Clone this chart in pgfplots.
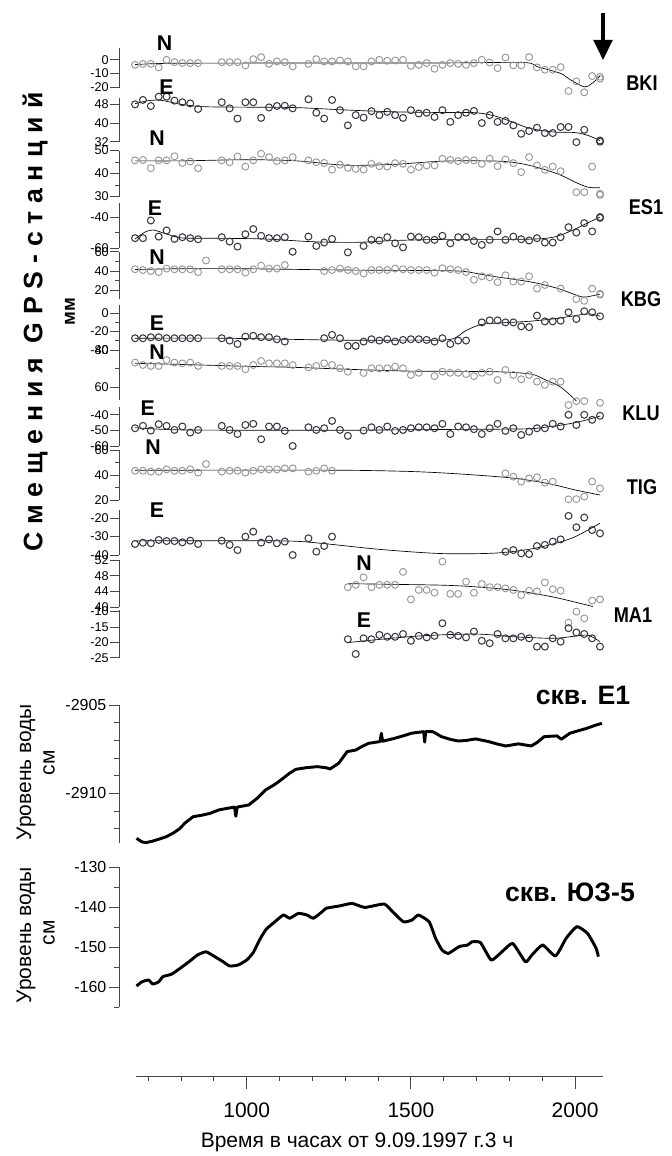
\documentclass[border=0pt]{standalone}
\usepackage{fontspec}
\setmainfont{Liberation Sans}
\usepackage{pgfplots}
\pgfplotsset{compat=1.18}
\usetikzlibrary{arrows.meta}
\definecolor{ncol}{RGB}{150,150,150}
\definecolor{ecol}{RGB}{55,60,66}
\definecolor{axcol}{RGB}{70,70,70}
\pgfplotsset{
  base/.style={scale only axis, width=363pt, xmin=611, xmax=2085, clip=false,
    axis x line=none, axis y line*=left, xtick=\empty, anchor=south west,
    axis line style={axcol, line width=0.6pt}, tick align=outside,
    every tick/.style={axcol, line width=0.6pt}},
  gps/.style={base, major tick length=6.75pt, minor tick length=3.4pt,
    yticklabel style={font=\fontsize{9.5}{10}\selectfont, inner sep=1pt}},
  ncirc/.style={only marks, mark=o, color=ncol, mark size=2.6pt, mark options={ncol, line width=0.7pt}},
  ecirc/.style={only marks, mark=o, color=ecol, mark size=2.6pt, mark options={ecol, line width=0.8pt}},
  fit/.style={black, line width=0.5pt, smooth, tension=0.5, no marks},
  wat/.style={base, major tick length=7.5pt, minor tick length=3.75pt, height=104pt,
    yticklabel style={font=\fontsize{12}{14}\selectfont, inner sep=2pt}},
}
\begin{document}
\begin{tikzpicture}
\useasboundingbox (0,0) rectangle (503.25pt,-867pt);
% ---------- BKI N
\begin{axis}[gps, at={(89.475pt,-66.225pt)}, height=30pt, ymin=-21, ymax=8.5,
  ytick={-20,-10,0}, yticklabels={-20,-10,0}]
\addplot[ncirc] coordinates {(659,-3.7) (683,-3) (707,-3) (731,-5.6) (755,0) (779,-1.7) (803,-2.4) (827,-2.4) (851,-2.4) (923,-1.7) (947,-1.7) (971,-1.7) (995,-4.1) (1019,0.5) (1043,2) (1067,-3) (1091,-1.2) (1115,-1.7) (1139,-4.9) (1187,-3) (1211,0.5) (1235,-1.2) (1259,-1.2) (1283,-0.5) (1307,-1.2) (1331,-4.9) (1355,-4.9) (1379,-1.2) (1403,0) (1427,-0.7) (1451,-0.5) (1475,0) (1499,-4.4) (1523,-3.7) (1547,-2.4) (1571,-6.6) (1595,-3.7) (1619,-2.4) (1643,-3) (1667,-3.7) (1691,-2.4) (1715,0) (1739,-2) (1763,-6.1) (1787,1.7) (1811,-4.1) (1835,-4.1) (1859,2) (1883,-5.6) (1907,-7.3) (1931,-7.3) (1955,-5.4) (1979,-23) (2003,-15.9) (2027,-24) (2051,-12) (2075,-14) (2075,-12.5)};
\addplot[fit] coordinates {(659,-3.5) (755,-2.6) (1000,-2.4) (1300,-2.3) (1600,-2.3) (1842,-2) (1883,-5) (1955,-10) (1980,-14) (2027,-20) (2050,-17.5) (2075,-12)};
\end{axis}
% ---------- BKI E
\begin{axis}[gps, at={(89.475pt,-106.275pt)}, height=32.55pt, ymin=32, ymax=50.6,
  ytick={32,40,48}, yticklabels={32,40,48}]
\addplot[ecirc] coordinates {(659,48) (683,49.9) (707,47.3) (731,51.3) (755,51.3) (779,49.6) (803,48.9) (827,48.4) (851,46) (923,48.9) (947,46.3) (971,41.9) (995,48.9) (1019,48.9) (1043,42.2) (1067,46.7) (1091,47.3) (1115,47.4) (1139,46.3) (1187,50.2) (1211,44.4) (1235,41.9) (1259,49.9) (1283,45.5) (1307,39) (1331,43.4) (1355,42.3) (1379,45.1) (1403,43.4) (1427,44.8) (1451,43.4) (1475,42.2) (1499,45.5) (1523,44.1) (1547,44.4) (1571,42.6) (1595,45.5) (1619,40.5) (1643,43.4) (1667,44.4) (1691,45.2) (1715,40) (1739,43.4) (1763,40.5) (1787,40.9) (1811,39) (1835,35.4) (1859,36.6) (1883,38) (1907,35.7) (1931,35.7) (1955,38.3) (1979,38.3) (2003,31.8) (2027,37.1) (2075,32.5) (2075,32)};
\addplot[fit] coordinates {(659,48.3) (700,49.6) (740,49.7) (800,48) (870,47) (1000,46.8) (1150,46.6) (1300,45.6) (1450,44.8) (1600,44.5) (1700,44.4) (1760,42.8) (1811,40.3) (1859,37.8) (1930,36.2) (2000,35.9) (2040,34.6) (2075,32.5)};
\end{axis}
% ---------- ES1 N
\begin{axis}[gps, at={(89.475pt,-147.375pt)}, height=34.5pt, ymin=30, ymax=50,
  ytick={30,40,50}, yticklabels={30,40,50}, minor ytick={35,45}]
\addplot[ncirc] coordinates {(659,45.7) (683,45.9) (707,42.3) (731,45.7) (755,45.7) (779,47.5) (803,44.6) (827,45.2) (851,42.3) (923,45.7) (947,44.9) (971,47.4) (995,43) (1019,45.7) (1043,48.6) (1067,47.1) (1091,45.4) (1115,45.7) (1139,47.1) (1187,45.7) (1211,44.9) (1235,44.6) (1259,41.7) (1283,43.8) (1307,42.5) (1331,42) (1355,41.7) (1379,44.2) (1403,43.2) (1427,43) (1451,44.5) (1475,44.2) (1499,41.7) (1523,42.8) (1547,43.5) (1571,43.5) (1595,46.4) (1619,45.9) (1643,45.4) (1667,45.9) (1691,45.7) (1715,44.2) (1739,46.4) (1763,43.2) (1787,46.1) (1811,44.5) (1835,40.6) (1859,47.1) (1883,43.5) (1907,41.6) (1931,43) (1955,41) (2003,31.9) (2027,31.9) (2051,43) (2075,30.7) (2075,31.2)};
\addplot[fit] coordinates {(659,45.5) (800,45.5) (1000,46) (1150,45.5) (1300,43.6) (1450,44) (1600,45.4) (1760,45.4) (1835,44.3) (1900,42) (1955,39.3) (2003,36) (2040,34) (2075,33.8)};
\end{axis}
% ---------- ES1 E
\begin{axis}[gps, at={(89.475pt,-186.225pt)}, height=33.975pt, ymin=-60, ymax=-31,
  ytick={-60,-40}, yticklabels={-60,-40}, minor ytick={-50}]
\addplot[ecirc] coordinates {(659,-53.5) (683,-53.5) (707,-42.2) (731,-52.5) (755,-48.6) (779,-54) (803,-52.9) (827,-53.5) (851,-54.2) (923,-52.9) (947,-55.7) (971,-58.9) (995,-51) (1019,-47.7) (1043,-52) (1067,-53.5) (1091,-53.5) (1115,-52.9) (1139,-62.2) (1187,-52.5) (1211,-58.5) (1235,-56.3) (1259,-54) (1307,-62.6) (1355,-58.5) (1379,-54.6) (1403,-55) (1427,-52.9) (1451,-56.8) (1475,-59.4) (1499,-52.5) (1523,-52.9) (1547,-54.6) (1571,-54.6) (1595,-52) (1619,-56.8) (1643,-52.9) (1667,-52.9) (1691,-55.3) (1715,-57.8) (1739,-54.6) (1763,-49.2) (1787,-54.6) (1811,-52.5) (1835,-54.2) (1859,-55) (1883,-53.5) (1907,-56.3) (1931,-56.3) (1955,-52.9) (1979,-46.5) (2003,-49.9) (2027,-43.9) (2051,-49.2) (2075,-40) (2075,-40.5)};
\addplot[fit] coordinates {(659,-54) (690,-49.5) (715,-48.3) (750,-50.5) (800,-53.3) (900,-53.6) (1050,-54) (1200,-55.8) (1330,-56.2) (1450,-55) (1600,-54.3) (1850,-54.2) (1930,-53) (1980,-49.5) (2030,-44.5) (2075,-40)};
\end{axis}
% ---------- KBG N
\begin{axis}[gps, at={(89.475pt,-223.875pt)}, height=35.1pt, ymin=11.5, ymax=60,
  ytick={20,40,60}, yticklabels={20,40,60}, minor ytick={30,50}]
\addplot[ncirc] coordinates {(659,41.8) (683,41) (707,40) (731,38.9) (755,42.5) (779,41.8) (803,41.8) (827,41.8) (851,38.9) (875,50.9) (923,41.8) (947,41.8) (971,41.8) (995,38.2) (1019,41.8) (1043,45.5) (1067,42.5) (1091,42.5) (1115,46.2) (1235,40) (1259,41) (1283,42.5) (1307,41) (1331,40) (1355,37.5) (1379,41) (1403,41) (1427,41) (1451,42.5) (1475,41.8) (1499,41) (1523,41) (1547,41) (1571,38.2) (1595,42.9) (1619,41.8) (1643,41) (1667,38.9) (1691,30.9) (1715,34.5) (1739,33.5) (1763,28.4) (1787,35.6) (1811,29.1) (1835,29.1) (1859,34.5) (1883,21.8) (1907,25.5) (1955,21.8) (2003,10.9) (2027,9.1) (2051,21.8) (2075,16.4) (2075,15.5)};
\addplot[fit] coordinates {(659,41.5) (800,42.4) (1000,42.3) (1300,41) (1500,40.6) (1620,40.2) (1667,39.3) (1739,35) (1800,32) (1859,29) (1907,25.5) (1955,21) (1995,16) (2027,13) (2075,16)};
\end{axis}
% ---------- KBG E
\begin{axis}[gps, at={(89.475pt,-262.5pt)}, height=33.75pt, ymin=-40, ymax=8.6,
  ytick={-40,-20,0}, yticklabels={-40,-20,0}, minor ytick={-30,-10}]
\addplot[ecirc] coordinates {(659,-27.3) (683,-27.3) (707,-26.2) (731,-26.2) (755,-27.3) (779,-27.3) (803,-27.3) (827,-27.3) (851,-27.3) (923,-27.3) (947,-29.8) (971,-33.5) (995,-25.5) (1019,-24.7) (1043,-26.2) (1067,-26.2) (1091,-28.4) (1115,-30.9) (1235,-27.3) (1259,-23.6) (1283,-27.3) (1307,-35.6) (1331,-35.6) (1355,-30.9) (1379,-28.4) (1403,-29.8) (1427,-28.4) (1451,-30.9) (1475,-29.1) (1499,-28.4) (1523,-28.4) (1547,-29.1) (1571,-30.9) (1595,-27.3) (1619,-33.5) (1643,-29.8) (1667,-29.8) (1715,-10.2) (1739,-8) (1763,-8) (1787,-10.2) (1811,-10.2) (1835,-14.5) (1859,-15.3) (1883,-2.9) (1907,-9.1) (1931,-9.1) (1955,-8.4) (1979,0.7) (2003,-6.5) (2027,1.8) (2051,0.7) (2075,-3.6)};
\addplot[fit] coordinates {(659,-27.3) (900,-27.2) (1100,-28.3) (1300,-29.4) (1500,-29.3) (1619,-28.6) (1667,-19) (1715,-12.3) (1787,-10.5) (1859,-9) (1930,-6.5) (1979,-4) (2040,-1) (2075,-3.6)};
\end{axis}
% ---------- KLU N
\begin{axis}[gps, at={(89.475pt,-300pt)}, height=37.5pt, ymin=53, ymax=80,
  ytick={60,80}, yticklabels={60,80}, minor ytick={70}]
\addplot[ncirc] coordinates {(659,73.2) (683,71.9) (707,71.4) (731,71.4) (755,74.6) (779,73.2) (803,72.8) (827,73.2) (851,71.4) (923,71.4) (947,71.4) (971,71.4) (995,69.6) (1019,71.9) (1043,74.1) (1067,72.8) (1091,72.8) (1115,72.8) (1139,71.9) (1187,70.6) (1211,71.4) (1235,72.8) (1259,71.9) (1283,70.1) (1307,68.3) (1355,67.6) (1379,70.1) (1403,70.1) (1427,70.1) (1451,71) (1475,70.1) (1499,66.5) (1523,67.7) (1571,65.9) (1595,68.3) (1619,67.7) (1643,67.7) (1667,67) (1691,65.9) (1715,67.7) (1739,68.3) (1763,63.8) (1787,69.2) (1811,66.5) (1835,64.2) (1859,66.5) (1883,62.9) (1907,61.1) (1931,62.9) (1955,62.9) (1979,50.3) (2003,52.4) (2027,52.4) (2075,51.5)};
\addplot[fit] coordinates {(659,72.8) (800,72.2) (1000,71.2) (1150,70.6) (1307,69.6) (1500,68.6) (1750,68.3) (1864,67) (1907,64) (1955,60) (2003,52.5)};
\end{axis}
% ---------- KLU E
\begin{axis}[gps, at={(89.475pt,-334.5pt)}, height=29.25pt, ymin=-60, ymax=-35,
  ytick={-60,-50,-40}, yticklabels={-60,-50,-40}]
\addplot[ecirc] coordinates {(659,-48.6) (683,-47.1) (707,-50.1) (731,-46) (755,-47.1) (779,-49.7) (803,-47.5) (827,-51.4) (851,-49.7) (923,-47.1) (947,-49.7) (971,-52.3) (995,-46.5) (1019,-45.8) (1043,-55.7) (1067,-47.5) (1091,-47.5) (1115,-50.3) (1139,-60) (1187,-48) (1211,-49.7) (1235,-48.6) (1259,-43.9) (1283,-49.7) (1307,-53.5) (1355,-50.1) (1379,-48) (1403,-49.7) (1427,-47.5) (1451,-50.3) (1475,-49.7) (1499,-48.6) (1523,-48) (1547,-48) (1571,-48.6) (1595,-45.8) (1619,-52.3) (1643,-47.5) (1667,-48) (1691,-49.2) (1715,-52.3) (1739,-48.6) (1763,-45.8) (1787,-50.3) (1811,-48.6) (1835,-52.9) (1859,-50.8) (1883,-48.6) (1907,-48.6) (1931,-45.8) (1955,-47.5) (1979,-40) (2003,-46.5) (2027,-40) (2051,-43.2) (2075,-40.6)};
\addplot[fit] coordinates {(659,-48.3) (780,-49.6) (1000,-49.9) (1300,-49.9) (1600,-49.4) (1850,-49) (1920,-47.6) (1980,-45.8) (2030,-43.5) (2075,-40.8)};
\end{axis}
% ---------- TIG N
\begin{axis}[gps, at={(89.475pt,-375pt)}, height=37.5pt, ymin=20, ymax=60,
  ytick={20,40,60}, yticklabels={20,40,60}, minor ytick={30,50}]
\addplot[ncirc] coordinates {(659,43.4) (683,43.4) (707,42.7) (731,42.7) (755,44.5) (779,43.4) (803,43.4) (827,44.5) (851,41.9) (875,48.8) (923,42.7) (947,43.4) (971,43.4) (995,41.9) (1019,43.4) (1043,44.5) (1067,44.5) (1091,44.5) (1115,45.3) (1139,45.3) (1187,42.7) (1211,43.4) (1235,45.3) (1259,43.4) (1787,41.3) (1811,38.7) (1835,34.7) (1859,37.3) (1883,38.1) (1907,33.9) (1931,34.7) (1979,20.5) (2003,20.7) (2027,22.7) (2051,34.7) (2075,29.3)};
\addplot[fit] coordinates {(659,43.8) (1000,43.9) (1300,43.8) (1500,42.8) (1650,40.8) (1811,37.5) (1920,33) (2000,28) (2075,24)};
\end{axis}
% ---------- TIG E
\begin{axis}[gps, at={(89.475pt,-416.25pt)}, height=33.75pt, ymin=-40, ymax=-15.5,
  ytick={-40,-30,-20}, yticklabels={-40,-30,-20}]
\addplot[ecirc] coordinates {(659,-34) (683,-33.3) (707,-33.6) (731,-31.8) (755,-32.4) (779,-32.4) (803,-33.1) (827,-32.2) (851,-34) (923,-32.2) (947,-34.5) (971,-37.3) (995,-30) (1019,-27.3) (1043,-33.3) (1067,-31.5) (1091,-33.6) (1115,-32.7) (1139,-40) (1187,-30.9) (1211,-38.2) (1235,-35.1) (1259,-30) (1787,-38.2) (1811,-37.3) (1835,-39.1) (1859,-39.5) (1883,-35.1) (1907,-34.5) (1931,-32.7) (1955,-31.5) (1979,-18.7) (2003,-24.9) (2027,-19.6) (2051,-26.4) (2075,-28.2)};
\addplot[fit] coordinates {(659,-32.3) (900,-32.2) (1130,-32.4) (1235,-33.8) (1408,-37) (1590,-39.2) (1751,-39) (1859,-36.9) (1940,-33.6) (2000,-30) (2075,-22.7)};
\end{axis}
% ---------- MA1 N
\begin{axis}[gps, at={(89.475pt,-455.475pt)}, height=35.475pt, ymin=40, ymax=52,
  ytick={40,44,48,52}, yticklabels={40,44,48,52}]
\addplot[ncirc] coordinates {(1307,45.1) (1331,45.7) (1355,47.6) (1379,45.1) (1403,45.7) (1427,45.7) (1451,45.7) (1475,49) (1499,42) (1523,44.4) (1547,44.4) (1571,43.7) (1595,51.6) (1619,43.4) (1643,43.4) (1667,46.5) (1691,43.7) (1715,45.9) (1739,45.1) (1763,45.1) (1787,44.8) (1811,44.4) (1835,43.1) (1859,44.2) (1883,44) (1907,46.3) (1931,44.6) (1955,44.2) (1979,36.1) (2003,38.9) (2027,37.2) (2051,41.7) (2075,42)};
\addplot[fit] coordinates {(1307,46) (1465,45.8) (1600,45.6) (1694,45.2) (1813,44.3) (1933,42.6) (2053,40.2)};
\end{axis}
% ---------- MA1 E
\begin{axis}[gps, at={(89.475pt,-493.275pt)}, height=35.775pt, ymin=-25, ymax=-9.5,
  ytick={-25,-20,-15,-10}, yticklabels={-25,-20,-15,-10}]
\addplot[ecirc] coordinates {(1307,-19) (1331,-23.8) (1355,-18.7) (1379,-19) (1403,-17.6) (1427,-18.2) (1451,-18.2) (1475,-17.3) (1499,-19.5) (1523,-17.9) (1547,-18.4) (1571,-17.9) (1595,-13.8) (1619,-17.6) (1643,-17.9) (1667,-18.4) (1691,-16.5) (1715,-19.5) (1739,-20.3) (1763,-17.3) (1787,-18.7) (1811,-18.7) (1835,-18.2) (1859,-18.7) (1883,-21.4) (1907,-21.4) (1931,-18.7) (1955,-19.8) (1979,-15.4) (2003,-16.8) (2027,-17.3) (2051,-18.7) (2075,-21.4)};
\addplot[fit] coordinates {(1307,-20.1) (1389,-19.2) (1529,-17.9) (1694,-17.3) (1813,-18.2) (1933,-18.7) (1991,-18.1) (2039,-17.7) (2075,-19.8)};
\end{axis}
% ---------- Water E1
\begin{axis}[wat, at={(89.475pt,-632.475pt)}, height=103.725pt, ymin=-2912.83, ymax=-2905,
  ytick={-2910,-2905}, yticklabels={-2910,-2905},
  minor ytick={-2912,-2911,-2909,-2908,-2907,-2906}]
\addplot[black, line width=2.2pt, line join=round] coordinates {(663.5,-2912.55) (680,-2912.75) (692,-2912.79) (710,-2912.72) (731,-2912.6) (755,-2912.45) (777,-2912.23) (795,-2912.0) (810,-2911.7) (836,-2911.32) (860,-2911.25) (888,-2911.13) (914,-2910.94) (940,-2910.85) (962,-2910.78) (966,-2911.3) (970,-2910.78) (1005,-2910.66) (1031,-2910.28) (1057,-2909.8) (1080,-2909.55) (1096.5,-2909.34) (1129,-2908.87) (1148.6,-2908.64) (1180,-2908.55) (1214,-2908.49) (1240,-2908.55) (1253,-2908.62) (1279,-2908.3) (1305,-2907.64) (1331,-2907.55) (1350,-2907.35) (1370,-2907.17) (1405,-2907.07) (1409,-2906.6) (1413,-2907.05) (1448.5,-2906.89) (1475,-2906.75) (1500.6,-2906.6) (1520,-2906.55) (1538,-2906.51) (1541,-2907.1) (1544,-2906.51) (1565.8,-2906.51) (1592,-2906.79) (1620,-2906.95) (1644,-2907.04) (1670,-2907.0) (1696.4,-2906.92) (1735.4,-2907.07) (1760,-2907.2) (1787.7,-2907.32) (1826.7,-2907.2) (1865.8,-2907.32) (1885,-2907.1) (1905,-2906.79) (1944,-2906.75) (1957,-2906.94) (1983,-2906.6) (2010,-2906.45) (2035,-2906.32) (2060,-2906.15) (2081,-2906.04)};
\end{axis}
% ---------- Water YuZ-5
\begin{axis}[wat, at={(89.475pt,-755.25pt)}, height=105pt, ymin=-165, ymax=-130,
  ytick={-160,-150,-140,-130}, yticklabels={-160,-150,-140,-130},
  minor ytick={-165,-155,-145,-135}]
\addplot[black, line width=2.2pt, line join=round, smooth, tension=0.3] coordinates {(663.5,-159.75) (680,-158.7) (700,-158.25) (713,-159.25) (731,-158.7) (744,-157.4) (770,-156.8) (796.6,-155.3) (823,-153.7) (849,-152) (875,-151.2) (901.5,-152.4) (927.6,-153.7) (947,-154.75) (973,-154.5) (999,-153.25) (1018.9,-151.4) (1038,-148.25) (1058,-145.6) (1084.6,-143.7) (1110.7,-142) (1130,-142.8) (1156.5,-141.6) (1182.6,-142) (1202,-142.8) (1228.5,-141.2) (1241.5,-140.3) (1280.6,-139.75) (1319.8,-139.1) (1358.9,-140.1) (1417.6,-139.25) (1443.7,-141.2) (1476.3,-143.7) (1502.4,-143.25) (1522,-142) (1554.6,-143.7) (1574.2,-147.8) (1593.8,-150.75) (1613.3,-151.6) (1646,-149.9) (1672,-149.5) (1685,-148.7) (1711,-148.9) (1743.7,-153.25) (1776.3,-151.2) (1808.9,-149.1) (1848,-153.7) (1867.6,-152) (1900.2,-149.5) (1939.4,-152.25) (1972,-147.8) (2004.6,-144.9) (2037,-146.6) (2063,-150.3) (2070,-152.4)};
\end{axis}
% ---------- bottom x axis
\begin{axis}[scale only axis, width=350.475pt, height=10pt, at={(101.775pt,-807pt)}, anchor=south west,
  xmin=662, xmax=2085, ymin=0, ymax=1, axis y line=none, axis x line*=bottom, ytick=\empty,
  axis line style={axcol, line width=0.6pt}, every tick/.style={axcol, line width=0.6pt},
  tick align=outside, major tick length=9.5pt, minor tick length=3.75pt,
  xtick={1000,1500,2000}, xticklabels={1000,1500,2000}, minor xtick={700,800,...,2000},
  xticklabel style={font=\fontsize{15.75}{18}\selectfont, yshift=-7pt}]
\addplot[draw=none] coordinates {(1000,0.5)};
\end{axis}
\node[font=\fontsize{15.75}{18}\selectfont] at (267.75pt,-856.5pt) {Время в часах от 9.09.1997 г.3 ч};
% ---------- annotations
\draw[line width=2.6pt, -{Triangle[length=15pt, width=14pt]}] (452.25pt,-9.75pt) -- (452.25pt,-45pt);
\begin{scope}[every node/.style={font=\fontsize{16}{18}\selectfont\bfseries, xscale=0.85}]
\node at (481.5pt,-62.25pt) {BKI};
\node at (484.5pt,-155pt) {ES1};
\node at (480.75pt,-224.25pt) {KBG};
\node at (480.75pt,-309.75pt) {KLU};
\node at (481.5pt,-365.25pt) {TIG};
\node at (474.75pt,-461.25pt) {MA1};
\end{scope}
\begin{scope}[every node/.style={font=\fontsize{16}{18}\selectfont\bfseries}]
\node at (123.45pt,-32.5pt) {N};
\node at (124.9pt,-65.5pt) {E};
\node at (117.75pt,-103.5pt) {N};
\node at (116.25pt,-156pt) {E};
\node at (117.75pt,-192.75pt) {N};
\node at (117.75pt,-242.25pt) {E};
\node at (117.75pt,-264pt) {N};
\node at (110.8pt,-306pt) {E};
\node at (114.75pt,-335pt) {N};
\node at (117.75pt,-382.5pt) {E};
\node at (273pt,-422.25pt) {N};
\node at (273pt,-465pt) {E};
\end{scope}
\node[rotate=90, font=\fontsize{20}{22}\selectfont\bfseries\addfontfeature{LetterSpace=29}] at (26.25pt,-241.5pt) {Смещения GPS-станций};
\node[rotate=90, font=\fontsize{14}{16}\selectfont\bfseries] at (52.5pt,-234pt) {мм};
\node[rotate=90, font=\fontsize{15.75}{18}\selectfont] at (19.5pt,-579pt) {Уровень воды};
\node[rotate=90, font=\fontsize{15.75}{18}\selectfont] at (36.75pt,-572.25pt) {см};
\node[rotate=90, font=\fontsize{15.75}{18}\selectfont] at (19.5pt,-701.25pt) {Уровень воды};
\node[rotate=90, font=\fontsize{15.75}{18}\selectfont] at (36.75pt,-699.75pt) {см};
\node[font=\fontsize{20}{22}\selectfont\bfseries] at (437.25pt,-521.25pt) {скв. E1};
\node[font=\fontsize{20}{22}\selectfont\bfseries] at (427.5pt,-669pt) {скв. ЮЗ-5};
\end{tikzpicture}
\end{document}
